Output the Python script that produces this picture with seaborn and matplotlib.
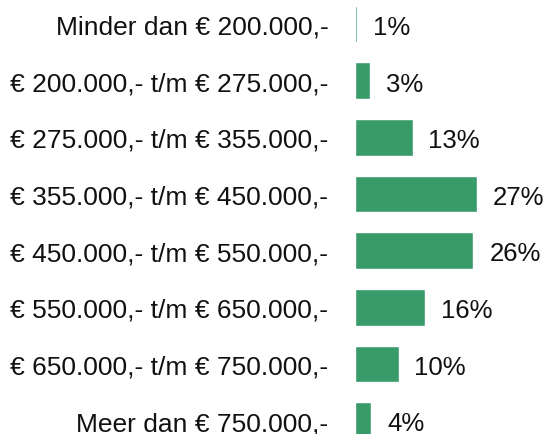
import matplotlib
matplotlib.use("Agg")
import matplotlib.pyplot as plt
import seaborn as sns
import pandas as pd

categories = [
    "Minder dan € 200.000,-",
    "€ 200.000,- t/m € 275.000,-",
    "€ 275.000,- t/m € 355.000,-",
    "€ 355.000,- t/m € 450.000,-",
    "€ 450.000,- t/m € 550.000,-",
    "€ 550.000,- t/m € 650.000,-",
    "€ 650.000,- t/m € 750.000,-",
    "Meer dan € 750.000,-",
]
values = [0.45, 3.4, 12.8, 27.0, 26.3, 15.6, 9.7, 3.6]
value_labels = ["1%", "3%", "13%", "27%", "26%", "16%", "10%", "4%"]

df = pd.DataFrame({"categorie": categories, "aandeel": values})

sns.set_style("white")
plt.rcParams["font.family"] = ["Liberation Sans", "DejaVu Sans"]

fig = plt.figure(figsize=(5.46, 4.35), dpi=100)
ax = fig.add_axes([0.6497, -0.0345, 0.248, 1.042])

sns.barplot(data=df, x="aandeel", y="categorie", color="#389B69",
            saturation=1, width=0.65, ax=ax)

# percentages rechts van de balken
for i, (v, lab) in enumerate(zip(values, value_labels)):
    ax.annotate(lab, xy=(v, i), xytext=(11.5, -2), textcoords="offset points",
                ha="left", va="center", fontsize=18.5, color="#111111")

ax.set_xlim(0, 30)
ax.set_xlabel("")
ax.set_ylabel("")
ax.set_xticks([])
ax.tick_params(axis="y", length=0, pad=19, labelsize=19, labelcolor="#111111")
sns.despine(ax=ax, left=True, bottom=True)

fig.savefig("out.png", dpi=100)
